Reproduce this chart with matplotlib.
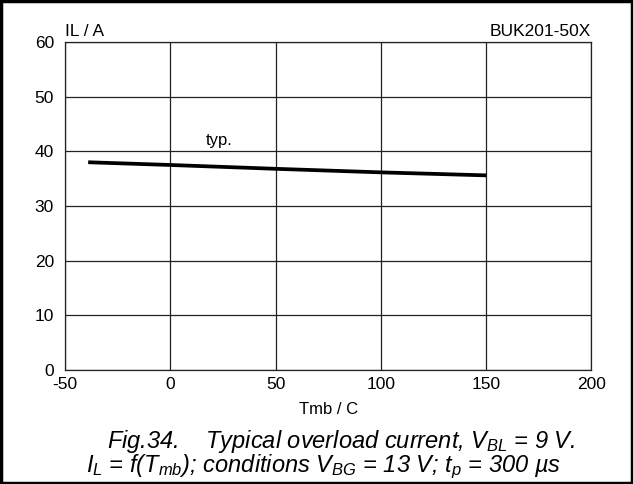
import matplotlib
matplotlib.use('Agg')
import matplotlib.pyplot as plt
from matplotlib.patches import Rectangle

plt.rcParams['font.family'] = ['Liberation Sans', 'DejaVu Sans']
plt.rcParams['mathtext.fontset'] = 'custom'
plt.rcParams['mathtext.it'] = 'Liberation Sans:italic'
plt.rcParams['mathtext.rm'] = 'Liberation Sans:italic'
plt.rcParams['axes.unicode_minus'] = False

# typical overload current vs mounting base temperature
tmb = [-39, 0, 50, 100, 150]
il = [38.0, 37.5, 36.8, 36.15, 35.6]

x_ticks = [-50, 0, 50, 100, 150, 200]
y_ticks = [0, 10, 20, 30, 40, 50, 60]

fig = plt.figure(figsize=(6.33, 4.84), dpi=100)
ax = fig.add_axes([0.1027, 0.2355, 0.8317, 0.6778])

ax.plot(tmb, il, color='black', linewidth=2.7, solid_capstyle='butt')
ax.text(23, 42, 'typ.', fontsize=12, ha='center', va='center')

ax.set_xlim(-50, 200)
ax.set_ylim(0, 60)
ax.set_xticks(x_ticks)
ax.set_yticks(y_ticks)
ax.tick_params(length=0, labelsize=12.5)
ax.tick_params(axis='x', pad=5)
ax.tick_params(axis='y', pad=8)
ax.grid(True, color='#222222', linewidth=0.9)
for s in ax.spines.values():
    s.set_linewidth(0.9)
    s.set_color('#222222')

ax.set_xlabel('Tmb / C', fontsize=12, labelpad=7)
ax.text(0, 1.01, 'IL / A', transform=ax.transAxes, fontsize=12.5, ha='left', va='bottom')
ax.text(1, 1.01, 'BUK201-50X', transform=ax.transAxes, fontsize=12.5, ha='right', va='bottom')

fig.text(0.539, 0.087, 'Fig.34.    Typical overload current, $V_{BL}$ = 9 V.',
         fontsize=17, style='italic', ha='center', va='center')
fig.text(0.511, 0.035, '$I_L$ = f($T_{mb}$); conditions $V_{BG}$ = 13 V; $t_p$ = 300 µs',
         fontsize=17, style='italic', ha='center', va='center')

fig.patches.append(Rectangle((0.002, 0.002), 0.996, 0.996, transform=fig.transFigure,
                             fill=False, edgecolor='black', linewidth=2.5))

fig.savefig('out.png', dpi=100)
